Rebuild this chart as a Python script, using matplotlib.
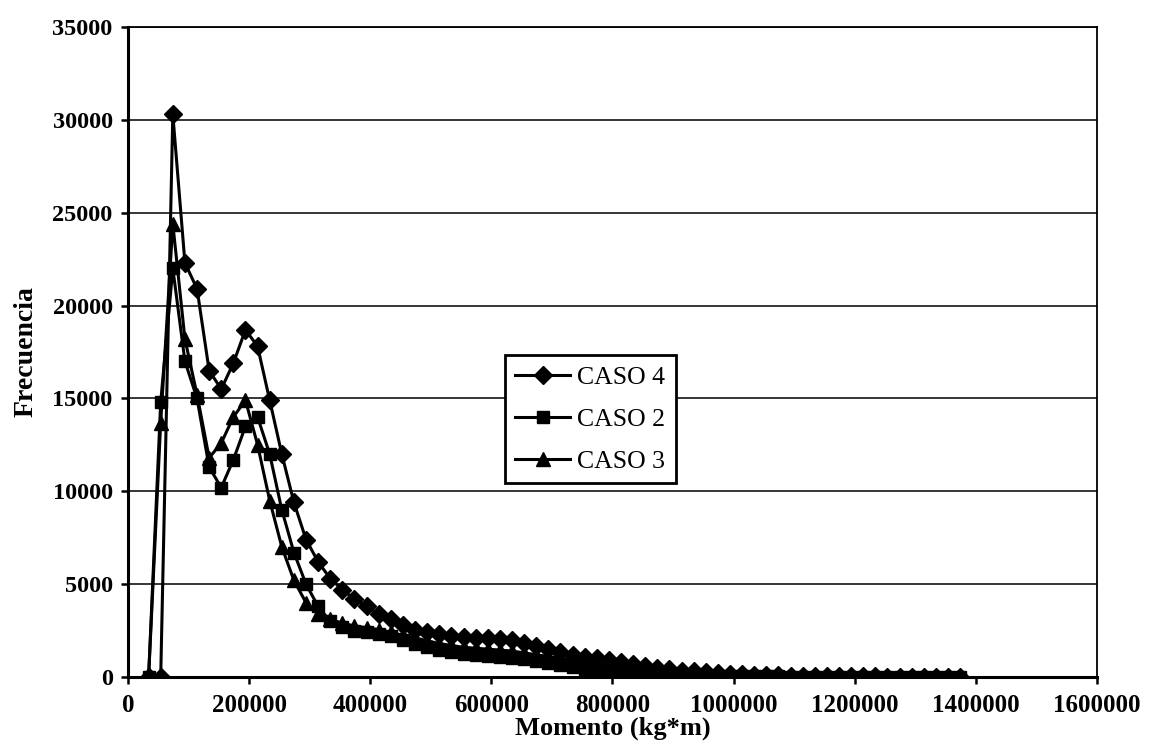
import matplotlib
matplotlib.use("Agg")
import matplotlib.pyplot as plt
import numpy as np
from matplotlib.ticker import FuncFormatter, MultipleLocator

# Momento (kg*m) sample positions
momento = [34000 + 20000 * i for i in range(68)]

caso4 = [0, 0, 30300, 22300, 20900, 16500, 15500, 16900, 18700, 17800,
         14900, 12000, 9400, 7400, 6200, 5300, 4700, 4200, 3800, 3400,
         3100, 2800, 2550, 2400, 2300, 2200, 2150, 2100, 2100, 2050,
         2000, 1850, 1650, 1500, 1350, 1200, 1100, 1000, 900, 800,
         700, 600, 500, 420, 350, 300, 250, 200, 170, 140,
         120, 100, 90, 80, 70, 60, 50, 45, 40, 35,
         30, 25, 20, 15, 10, 8, 5, 3]

caso2 = [0, 14800, 22000, 17000, 15000, 11300, 10200, 11700, 13500, 14000,
         12000, 9000, 6700, 5000, 3800, 3000, 2700, 2500, 2400, 2300,
         2200, 2000, 1800, 1600, 1450, 1350, 1250, 1200, 1150, 1100,
         1000, 950, 850, 750, 650, 550, 450, 350, 280, 230,
         190, 160, 130, 110, 90, 80, 70, 60, 50, 45,
         40, 35, 30, 28, 25, 22, 20, 18, 15, 12,
         10, 8, 6, 5, 4, 3, 2, 1]

caso3 = [0, 13700, 24400, 18200, 15200, 11800, 12600, 14000, 14900, 12500,
         9500, 7000, 5200, 4000, 3400, 3100, 2900, 2750, 2650, 2550,
         2400, 2250, 2100, 1950, 1800, 1700, 1600, 1550, 1500, 1450,
         1400, 1300, 1200, 1100, 1000, 900, 800, 700, 600, 520,
         450, 380, 320, 270, 220, 180, 150, 120, 100, 85,
         70, 60, 50, 45, 40, 35, 30, 25, 22, 20,
         16, 13, 10, 8, 6, 4, 3, 2]

series_labels = ["CASO 4", "CASO 2", "CASO 3"]

plt.rcParams['font.family'] = ['Liberation Serif', 'DejaVu Serif']

fig = plt.figure(figsize=(11.5, 7.49), dpi=100)
ax = fig.add_axes([0.1113, 0.0961, 0.8426, 0.8679])

lw = 2.2
ax.plot(momento, caso4, color='black', lw=lw, marker='D', ms=9.5,
        mfc='black', mec='black', label=series_labels[0], zorder=5)
ax.plot(momento, caso2, color='black', lw=lw, marker='s', ms=8,
        mfc='black', mec='black', label=series_labels[1], zorder=4)
ax.plot(momento, caso3, color='black', lw=lw, marker='^', ms=9.5,
        mfc='black', mec='black', label=series_labels[2], zorder=3)

ax.set_xlim(0, 1600000)
ax.set_ylim(0, 35000)
ax.xaxis.set_major_locator(MultipleLocator(200000))
ax.yaxis.set_major_locator(MultipleLocator(5000))
fmt = FuncFormatter(lambda v, p: f"{int(round(v))}")
ax.xaxis.set_major_formatter(fmt)
ax.yaxis.set_major_formatter(fmt)

ax.yaxis.grid(True, color='black', lw=1.1)
ax.set_axisbelow(True)

for s in ['left', 'bottom']:
    ax.spines[s].set_linewidth(2.2)
for s in ['right', 'top']:
    ax.spines[s].set_linewidth(1.3)

ax.tick_params(axis='both', direction='out', length=5, width=1.8)
ax.tick_params(axis='x', labelsize=18, pad=7)
ax.tick_params(axis='y', labelsize=17.5, pad=6)
for lab in ax.get_xticklabels() + ax.get_yticklabels():
    lab.set_fontweight('bold')

ax.set_xlabel("Momento (kg*m)", fontsize=19, fontweight='bold', labelpad=0)
ax.set_ylabel("Frecuencia", fontsize=20, fontweight='bold', labelpad=10)

leg = ax.legend(loc='upper left', bbox_to_anchor=(0.389, 0.495),
                borderaxespad=0, fontsize=18.5, frameon=True, fancybox=False,
                edgecolor='black', handlelength=2.15, labelspacing=0.75,
                handletextpad=0.27, borderpad=0.4)
leg.get_frame().set_linewidth(2.0)
leg.get_frame().set_facecolor('white')
leg.get_frame().set_alpha(1)

fig.savefig("out.png", dpi=100, facecolor='white')
